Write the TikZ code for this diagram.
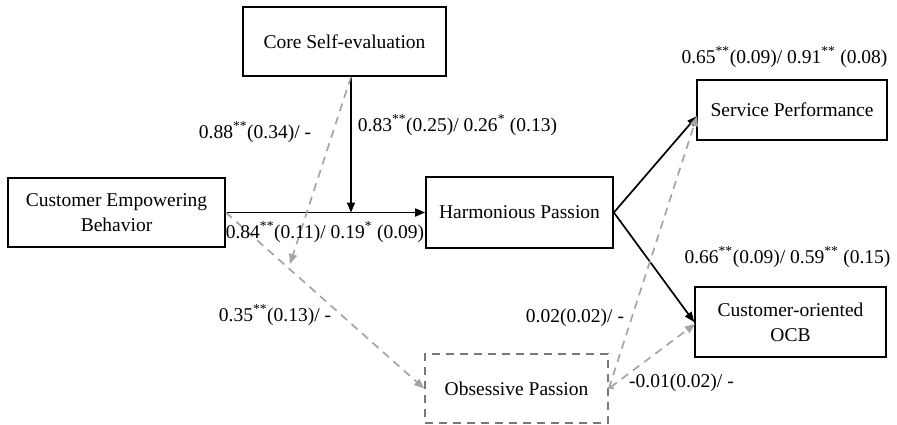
\documentclass[tikz,border=0pt]{standalone}
\usepackage{fontspec}
\setmainfont{Liberation Serif}
\usetikzlibrary{arrows.meta}
\definecolor{dgray}{RGB}{165,165,165}
\definecolor{bgray}{RGB}{120,120,120}
\begin{document}
\begin{tikzpicture}[x=1pt,y=-1pt,
  font=\fontsize{19.5}{25}\selectfont,
  box/.style={draw,line width=1.7pt,inner sep=0pt,align=center},
  dbox/.style={draw=bgray,line width=1.7pt,dash pattern=on 8pt off 6pt,inner sep=0pt,align=center},
  arr/.style={line width=1.7pt,-{Triangle[length=10pt,width=8pt]}},
  darr/.style={draw=dgray,line width=1.7pt,dash pattern=on 8pt off 6pt,-{Triangle[length=10pt,width=8pt]}},
  lab/.style={inner sep=0pt}]
\useasboundingbox (0,0) rectangle (897,425);
\fill[white] (0,0) rectangle (897,425);
\node[box,minimum width=203pt,minimum height=69pt] (cse) at (344.5,41.5) {Core Self-evaluation};
\node[box,minimum width=217pt,minimum height=69pt] (ceb) at (116.5,212.5) {Customer Empowering\\Behavior};
\node[box,minimum width=187pt,minimum height=71pt] (hp) at (519.5,212.5) {Harmonious Passion};
\node[box,minimum width=190pt,minimum height=60pt] (sp) at (792,110) {Service Performance};
\node[box,minimum width=191pt,minimum height=70pt] (ocb) at (790.5,322) {Customer-oriented\\OCB};
\node[dbox,minimum width=183pt,minimum height=69pt] (op) at (516.5,388.5) {Obsessive Passion};
\coordinate (m) at (351,212.5);
\coordinate (g) at (290,264);
\coordinate (spin) at (697,116);
\coordinate (ocbin) at (695,324);
% solid paths
\draw[arr] (ceb.east) -- (hp.west);
\draw[arr] (cse.south -| m) -- (m);
\draw[arr] (hp.east) -- (spin);
\draw[arr] (hp.east) -- (ocb.west);
% dashed paths
\draw[darr] (cse.south -| m) -- (g);
\draw[darr] (ceb.east) -- (op.west);
\draw[darr] (op.east) -- (spin);
\draw[darr,{Straight Barb[length=3pt,width=6pt]}-{Triangle[length=10pt,width=8pt]}] (op.east) -- (ocbin);
% labels
\node[lab] (l1) at (255,132) {0.88\textsuperscript{**}(0.34)/ -};
\node[lab] (l2) at (457.5,125) {0.83\textsuperscript{**}(0.25)/ 0.26\textsuperscript{*} (0.13)};
\node[lab] (l3) at (325,232) {0.84\textsuperscript{**}(0.11)/ 0.19\textsuperscript{*} (0.09)};
\node[lab] (l4) at (275,315) {0.35\textsuperscript{**}(0.13)/ -};
\node[lab] (l5) at (784.5,57) {0.65\textsuperscript{**}(0.09)/ 0.91\textsuperscript{**} (0.08)};
\node[lab] (l6) at (787.5,257) {0.66\textsuperscript{**}(0.09)/ 0.59\textsuperscript{**} (0.15)};
\node[lab] (l7) at (575,318) {0.02(0.02)/ -};
\node[lab] (l8) at (681.5,383) {-0.01(0.02)/ -};
\end{tikzpicture}
\end{document}
